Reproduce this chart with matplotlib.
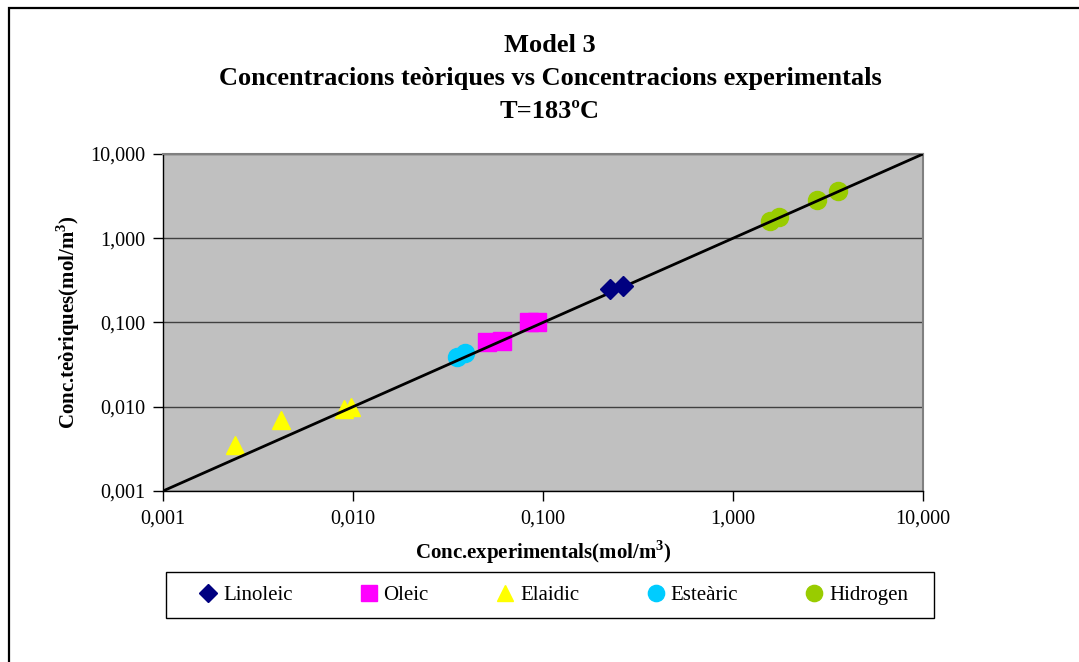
import matplotlib
matplotlib.use("Agg")
import matplotlib.pyplot as plt
from matplotlib.patches import Rectangle
from matplotlib.ticker import FixedLocator, FixedFormatter, NullLocator

plt.rcParams['font.family'] = ['Liberation Serif', 'DejaVu Serif']
plt.rcParams['mathtext.fontset'] = 'custom'
plt.rcParams['mathtext.rm'] = 'Liberation Serif'
plt.rcParams['mathtext.bf'] = 'Liberation Serif:bold'

# Experimental (x) vs theoretical (y) concentrations, mol/m3
linoleic_exp = [0.225, 0.264]
linoleic_teo = [0.247, 0.269]
oleic_exp = [0.051, 0.061, 0.084, 0.093]
oleic_teo = [0.058, 0.060, 0.102, 0.101]
elaidic_exp = [0.0024, 0.0042, 0.0090, 0.0098]
elaidic_teo = [0.0035, 0.0070, 0.0095, 0.0100]
estearic_exp = [0.0352, 0.0388]
estearic_teo = [0.0393, 0.0440]
hidrogen_exp = [1.57, 1.75, 2.77, 3.57]
hidrogen_teo = [1.59, 1.78, 2.83, 3.63]

parity_line = [0.001, 10.0]
tick_values = [0.001, 0.01, 0.1, 1, 10]
tick_labels = ["0,001", "0,010", "0,100", "1,000", "10,000"]

W, H = 1079, 662
fig = plt.figure(figsize=(W / 100, H / 100), dpi=100)
fig.patch.set_facecolor('white')

# outer chart-area frame (right and bottom edges fall outside the canvas)
fig.patches.append(Rectangle((8.5 / W, -0.1), 1.5, 1 - 7.5 / H + 0.1,
                             transform=fig.transFigure, fill=False,
                             edgecolor='black', linewidth=1.6))

ax = fig.add_axes([163 / W, 1 - 491 / H, 760 / W, 337 / H])
ax.set_facecolor('#C0C0C0')
ax.set_xscale('log')
ax.set_yscale('log')
ax.set_xlim(0.001, 10)
ax.set_ylim(0.001, 10)

for axis in (ax.xaxis, ax.yaxis):
    axis.set_major_locator(FixedLocator(tick_values))
    axis.set_major_formatter(FixedFormatter(tick_labels))
    axis.set_minor_locator(NullLocator())

ax.tick_params(axis='both', which='major', direction='out', length=7,
               width=1, color='black', labelsize=14.5, pad=6)
ax.grid(True, axis='y', color='#404040', linewidth=1)
ax.set_axisbelow(True)
for side in ('top', 'right'):
    ax.spines[side].set_color('#808080')
    ax.spines[side].set_linewidth(1.5)
for side in ('left', 'bottom'):
    ax.spines[side].set_color('black')
    ax.spines[side].set_linewidth(1)

ax.plot(parity_line, parity_line, color='black', linewidth=2, zorder=3)

ms = 13
ax.plot(linoleic_exp, linoleic_teo, linestyle='none', marker='D', ms=10,
        color='#000080', label='Linoleic', zorder=4)
ax.plot(oleic_exp, oleic_teo, linestyle='none', marker='s', ms=ms,
        color='#FF00FF', label='Oleic', zorder=2)
ax.plot(elaidic_exp, elaidic_teo, linestyle='none', marker='^', ms=ms,
        color='#FFFF00', label='Elaidic', zorder=2)
ax.plot(estearic_exp, estearic_teo, linestyle='none', marker='o', ms=ms,
        color='#00CCFF', label='Esteàric', zorder=2)
ax.plot(hidrogen_exp, hidrogen_teo, linestyle='none', marker='o', ms=ms,
        color='#99CC00', label='Hidrogen', zorder=2)

title_kw = dict(ha='center', va='center', fontsize=19, fontweight='bold')
fig.text(550 / W, 1 - 46 / H, 'Model 3', **title_kw)
fig.text(550 / W, 1 - 79 / H,
         'Concentracions teòriques vs Concentracions experimentals',
         **title_kw)
fig.text(550 / W, 1 - 112 / H, 'T=183ºC', **title_kw)

fig.text(543 / W, 1 - 552 / H, r'Conc.experimentals(mol/m$^\mathbf{3}$)',
         ha='center', va='center', fontsize=15, fontweight='bold')
fig.text(68 / W, 1 - 322 / H, r'Conc.teòriques(mol/m$^\mathbf{3}$)',
         ha='center', va='center', fontsize=15, fontweight='bold',
         rotation=90)

# legend box below the plot
fig.patches.append(Rectangle((165.5 / W, 1 - 618 / H), 768 / W, 46 / H,
                             transform=fig.transFigure, fill=False,
                             edgecolor='black', linewidth=1))
handles, labels = ax.get_legend_handles_labels()
leg = fig.legend(handles, labels, loc='center', ncol=5, mode='expand',
                 bbox_to_anchor=(200 / W, 1 - 618 / H, 708 / W, 46 / H),
                 fontsize=15, frameon=False, markerscale=0.9,
                 handlelength=0.8, handletextpad=0.3, borderaxespad=0,
                 borderpad=0)

fig.savefig('out.png', dpi=100)
